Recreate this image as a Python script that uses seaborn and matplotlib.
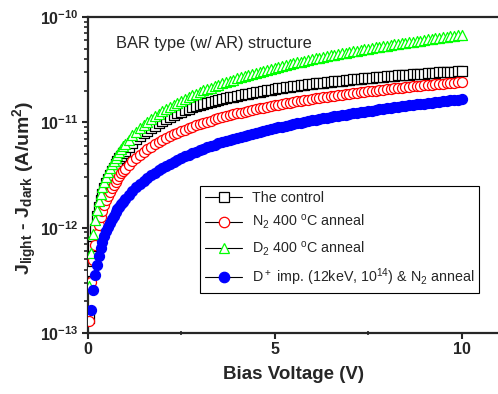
import numpy as np
import pandas as pd
import matplotlib
matplotlib.use("Agg")
import matplotlib.pyplot as plt
import seaborn as sns
from matplotlib.lines import Line2D
from matplotlib.ticker import LogLocator, FixedLocator, NullFormatter, LogFormatterSciNotation

sns.set_style("ticks")
plt.rcParams['font.family'] = ['Liberation Sans', 'DejaVu Sans']
plt.rcParams['mathtext.default'] = 'regular'

# Bias voltage (V)
voltage = [0.05, 0.10, 0.15, 0.20, 0.25, 0.30, 0.35, 0.40, 0.45, 0.50,
           0.55, 0.60, 0.65, 0.70, 0.75, 0.80, 0.85, 0.90, 0.95, 1.00,
           1.1, 1.2, 1.3, 1.4, 1.5, 1.6, 1.7, 1.8, 1.9, 2.0,
           2.1, 2.2, 2.3, 2.4, 2.5, 2.6, 2.7, 2.8, 2.9, 3.0,
           3.1, 3.2, 3.3, 3.4, 3.5, 3.6, 3.7, 3.8, 3.9, 4.0,
           4.1, 4.2, 4.3, 4.4, 4.5, 4.6, 4.7, 4.8, 4.9, 5.0,
           5.1, 5.2, 5.3, 5.4, 5.5, 5.6, 5.7, 5.8, 5.9, 6.0,
           6.1, 6.2, 6.3, 6.4, 6.5, 6.6, 6.7, 6.8, 6.9, 7.0,
           7.1, 7.2, 7.3, 7.4, 7.5, 7.6, 7.7, 7.8, 7.9, 8.0,
           8.1, 8.2, 8.3, 8.4, 8.5, 8.6, 8.7, 8.8, 8.9, 9.0,
           9.1, 9.2, 9.3, 9.4, 9.5, 9.6, 9.7, 9.8, 9.9, 10.0]

# J_light - J_dark, in units of 1e-12 A/um^2
control = [0.1396, 0.386, 0.671, 0.973, 1.283, 1.566, 1.838, 2.108, 2.366, 2.627,
           2.895, 3.174, 3.450, 3.723, 3.992, 4.258, 4.536, 4.807, 5.076, 5.347,
           5.868, 6.379, 6.882, 7.375, 7.860, 8.356, 8.845, 9.329, 9.811, 10.29,
           10.76, 11.22, 11.68, 12.14, 12.59, 13.04, 13.49, 13.86, 14.23, 14.59,
           14.94, 15.29, 15.63, 15.97, 16.30, 16.63, 16.95, 17.26, 17.57, 17.88,
           18.18, 18.48, 18.77, 19.06, 19.34, 19.62, 19.90, 20.17, 20.44, 20.71,
           20.97, 21.23, 21.48, 21.73, 21.98, 22.22, 22.47, 22.70, 22.94, 23.17,
           23.40, 23.63, 23.86, 24.08, 24.30, 24.52, 24.73, 24.94, 25.15, 25.36,
           25.57, 25.77, 25.97, 26.17, 26.37, 26.56, 26.75, 26.94, 27.13, 27.32,
           27.50, 27.68, 27.86, 28.04, 28.22, 28.40, 28.57, 28.74, 28.92, 29.08,
           29.25, 29.42, 29.58, 29.74, 29.90, 30.07, 30.22, 30.38, 30.54, 30.69]

n2_anneal = [0.129, 0.304, 0.490, 0.681, 0.872, 1.064, 1.256, 1.446, 1.635, 1.823,
             2.009, 2.193, 2.376, 2.558, 2.738, 2.915, 3.093, 3.268, 3.442, 3.614,
             3.955, 4.290, 4.620, 4.945, 5.265, 5.581, 5.892, 6.199, 6.503, 6.803,
             7.098, 7.390, 7.678, 7.964, 8.245, 8.525, 8.801, 9.074, 9.345, 9.609,
             9.877, 10.14, 10.40, 10.66, 10.91, 11.16, 11.41, 11.66, 11.91, 12.15,
             12.39, 12.63, 12.87, 13.11, 13.34, 13.58, 13.81, 14.03, 14.26, 14.48,
             14.71, 14.93, 15.15, 15.37, 15.59, 15.81, 16.02, 16.23, 16.45, 16.66,
             16.86, 17.07, 17.28, 17.48, 17.69, 17.89, 18.09, 18.29, 18.49, 18.69,
             18.89, 19.08, 19.27, 19.47, 19.66, 19.85, 20.04, 20.23, 20.42, 20.60,
             20.79, 20.98, 21.16, 21.34, 21.53, 21.71, 21.89, 22.07, 22.25, 22.42,
             22.60, 22.78, 22.95, 23.13, 23.30, 23.47, 23.64, 23.81, 23.99, 24.15]

d2_anneal = [0.280, 0.574, 0.873, 1.176, 1.482, 1.790, 2.100, 2.411, 2.723, 3.038,
             3.352, 3.667, 3.984, 4.302, 4.621, 4.940, 5.260, 5.580, 5.901, 6.223,
             6.868, 7.515, 8.165, 8.815, 9.468, 10.12, 10.78, 11.43, 12.09, 12.75,
             13.41, 14.07, 14.74, 15.40, 16.06, 16.73, 17.40, 18.06, 18.73, 19.40,
             20.07, 20.74, 21.41, 22.08, 22.76, 23.43, 24.10, 24.78, 25.45, 26.13,
             26.81, 27.48, 28.16, 28.84, 29.52, 30.20, 30.88, 31.56, 32.24, 32.92,
             33.60, 34.28, 34.96, 35.65, 36.33, 37.01, 37.70, 38.38, 39.07, 39.75,
             40.44, 41.13, 41.81, 42.50, 43.19, 43.88, 44.56, 45.25, 45.94, 46.63,
             47.32, 48.01, 48.70, 49.39, 50.08, 50.77, 51.46, 52.16, 52.85, 53.54,
             54.23, 54.93, 55.62, 56.32, 57.01, 57.70, 58.40, 59.09, 59.79, 60.48,
             61.18, 61.87, 62.57, 63.27, 63.97, 64.66, 65.36, 66.06, 66.75, 67.45]

d_imp = [0.0766, 0.166, 0.2584, 0.352, 0.4466, 0.5413, 0.6363, 0.7314, 0.8264, 0.9214,
         1.016, 1.111, 1.2055, 1.300, 1.394, 1.488, 1.582, 1.676, 1.769, 1.862,
         2.048, 2.233, 2.417, 2.600, 2.783, 2.965, 3.146, 3.327, 3.506, 3.686,
         3.864, 4.042, 4.219, 4.395, 4.571, 4.746, 4.921, 5.095, 5.269, 5.442,
         5.614, 5.786, 5.957, 6.129, 6.299, 6.469, 6.638, 6.807, 6.976, 7.144,
         7.312, 7.479, 7.646, 7.812, 7.978, 8.143, 8.308, 8.473, 8.637, 8.802,
         8.965, 9.128, 9.291, 9.453, 9.615, 9.777, 9.938, 10.10, 10.26, 10.42,
         10.58, 10.74, 10.90, 11.06, 11.22, 11.37, 11.53, 11.69, 11.85, 12.01,
         12.16, 12.32, 12.48, 12.63, 12.79, 12.94, 13.10, 13.25, 13.41, 13.56,
         13.72, 13.87, 14.02, 14.18, 14.33, 14.48, 14.63, 14.79, 14.94, 15.09,
         15.24, 15.39, 15.54, 15.70, 15.85, 16.00, 16.15, 16.30, 16.45, 16.60]

labels = ["The control",
          "N$_2$ 400 $^o$C anneal",
          "D$_2$ 400 $^o$C anneal",
          "D$^+$ imp. (12keV, 10$^{14}$) & N$_2$ anneal"]

y_ticks = [1e-13, 1e-12, 1e-11, 1e-10]
x_ticks = [0, 5, 10]

scale = 1e-12
series = [
    (control, 's', 'white', 'black'),
    (n2_anneal, 'o', 'white', '#ff0000'),
    (d2_anneal, '^', 'white', '#00ff00'),
    (d_imp, 'o', '#0000ff', '#0000ff'),
]

fig = plt.figure(figsize=(4.98, 3.94), dpi=100)
ax = fig.add_axes([87.5/498, 61/394, 411.5/498, 316/394])

for vals, mk, fc, ec in series:
    df = pd.DataFrame({'V': voltage, 'J': np.array(vals) * scale})
    sns.scatterplot(data=df, x='V', y='J', marker=mk, s=52, facecolor=fc,
                    edgecolor=ec, linewidth=0.9, ax=ax, legend=False, zorder=3)

ax.set_yscale('log')
ax.set_ylim(1e-13, 1e-10)
ax.set_xlim(0, 11)

ax.xaxis.set_major_locator(FixedLocator(x_ticks))
ax.xaxis.set_minor_locator(FixedLocator([2.5, 7.5]))
ax.yaxis.set_major_locator(FixedLocator(y_ticks))
ax.yaxis.set_major_formatter(LogFormatterSciNotation())
ax.yaxis.set_minor_locator(LogLocator(base=10, subs=np.arange(2, 10)))
ax.yaxis.set_minor_formatter(NullFormatter())

for s in ['left', 'bottom', 'top']:
    ax.spines[s].set_linewidth(1.6)
ax.spines['right'].set_visible(False)
ax.tick_params(axis='both', which='major', direction='out', length=4, width=1.5,
               labelsize=11.5, pad=2.5)
ax.tick_params(axis='y', which='minor', direction='out', length=2.8, width=1.2)
ax.tick_params(axis='x', which='minor', direction='inout', length=3.5, width=1.2)
for lab in ax.get_xticklabels() + ax.get_yticklabels():
    lab.set_fontweight('bold')

ax.set_xlabel('Bias Voltage (V)', fontsize=13.5, fontweight='bold')
ax.xaxis.set_label_coords(0.5, -0.105)
ax.set_ylabel('J$_{light}$ - J$_{dark}$ (A/um$^2$)', fontsize=14, fontweight='bold')
ax.yaxis.set_label_coords(-0.118, 0.46)

ax.text(0.069, 0.916, 'BAR type (w/ AR) structure', transform=ax.transAxes,
        fontsize=11.8, va='center', ha='left')

handles = []
for vals, mk, fc, ec in series:
    handles.append(Line2D([0], [0], color='black', lw=0.8, marker=mk, markersize=7.5,
                          markerfacecolor=fc, markeredgecolor=ec, markeredgewidth=0.9))
leg = ax.legend(handles, labels, loc='upper left', bbox_to_anchor=(0.274, 0.466),
                fontsize=10.25, frameon=True, fancybox=False, framealpha=1,
                edgecolor='black', handlelength=2.6, handletextpad=0.65,
                labelspacing=0.58, borderpad=0.35, borderaxespad=0)
leg.get_frame().set_linewidth(0.8)

fig.savefig('out.png', dpi=100)
